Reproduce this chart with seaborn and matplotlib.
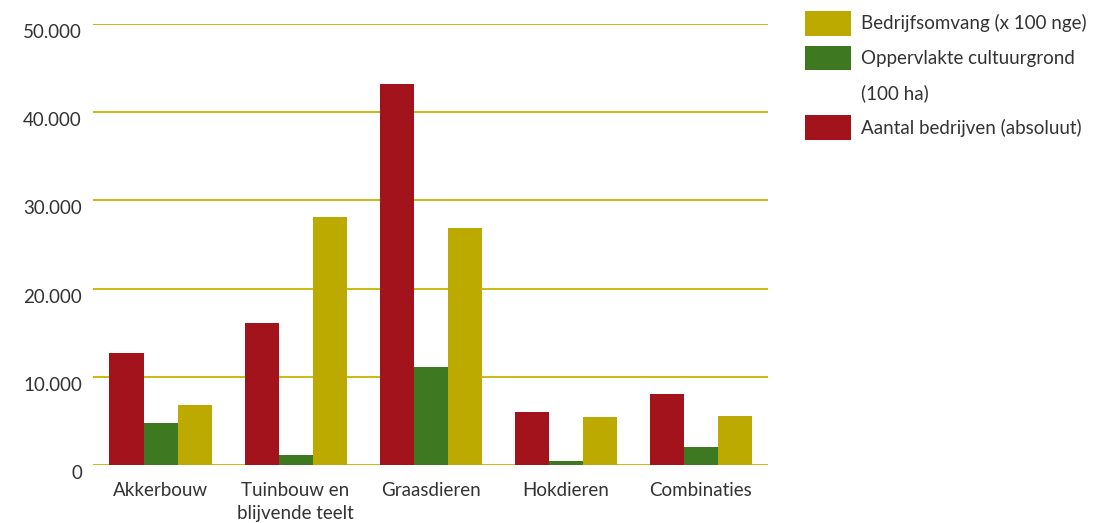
import numpy as np
import pandas as pd
import seaborn as sns
import matplotlib.pyplot as plt
from matplotlib.patches import Patch
from matplotlib.ticker import FuncFormatter

categories = ['Akkerbouw', 'Tuinbouw en\nblijvende teelt', 'Graasdieren', 'Hokdieren', 'Combinaties']
aantal_bedrijven = [12700, 16100, 43200, 6000, 8050]
oppervlakte = [4800, 1150, 11100, 450, 2050]
bedrijfsomvang = [6850, 28100, 26900, 5450, 5550]

series_names = ['Aantal bedrijven (absoluut)',
                'Oppervlakte cultuurgrond',
                'Bedrijfsomvang (x 100 nge)']
colors = ['#A3131C', '#3E7821', '#BCAA00']

df = pd.DataFrame({
    'categorie': categories * 3,
    'reeks': [series_names[0]] * 5 + [series_names[1]] * 5 + [series_names[2]] * 5,
    'waarde': aantal_bedrijven + oppervlakte + bedrijfsomvang,
})

sns.set_theme(style='white')
plt.rcParams['font.family'] = ['Lato', 'DejaVu Sans']
text_color = '#333333'
fs = 13.5

fig = plt.figure(figsize=(11.14, 5.23), dpi=100)
ax = fig.add_axes([0.0835, 0.111, 0.606, 0.843])

sns.barplot(data=df, x='categorie', y='waarde', hue='reeks', hue_order=series_names,
            palette=colors, width=0.756, saturation=1, errorbar=None, ax=ax,
            linewidth=0, zorder=3)

ax.set_xlim(-0.5, 4.5)
ax.set_ylim(0, 50000)
ax.set_yticks(np.arange(0, 50001, 10000))
ax.yaxis.set_major_formatter(FuncFormatter(lambda v, p: f'{int(v):,}'.replace(',', '.')))
ax.grid(axis='y', color='#C8B400', linewidth=1.3, zorder=0)
ax.grid(axis='x', visible=False)
for s in ax.spines.values():
    s.set_visible(False)
ax.set_xlabel('')
ax.set_ylabel('')
ax.tick_params(axis='both', length=0, labelsize=fs, colors=text_color)
ax.tick_params(axis='y', pad=8)
ax.tick_params(axis='x', pad=12)
for lbl in ax.get_yticklabels():
    lbl.set_verticalalignment('top')
for lbl in ax.get_xticklabels():
    lbl.set_linespacing(1.45)

# legend: reversed order, extra blank row for the wrapped "(100 ha)"
handles, labels = ax.get_legend_handles_labels()
handles = [handles[2], handles[1], Patch(alpha=0), handles[0]]
labels = [labels[2], labels[1], '(100 ha)', labels[0]]
ax.legend(handles, labels, loc='upper left', bbox_to_anchor=(1.0548, 1.03),
          frameon=False, fontsize=fs, labelcolor=text_color, handlelength=2.45,
          handleheight=1.67, handletextpad=0.55, labelspacing=0.52,
          borderaxespad=0, borderpad=0)

fig.savefig('out.png', dpi=100)
